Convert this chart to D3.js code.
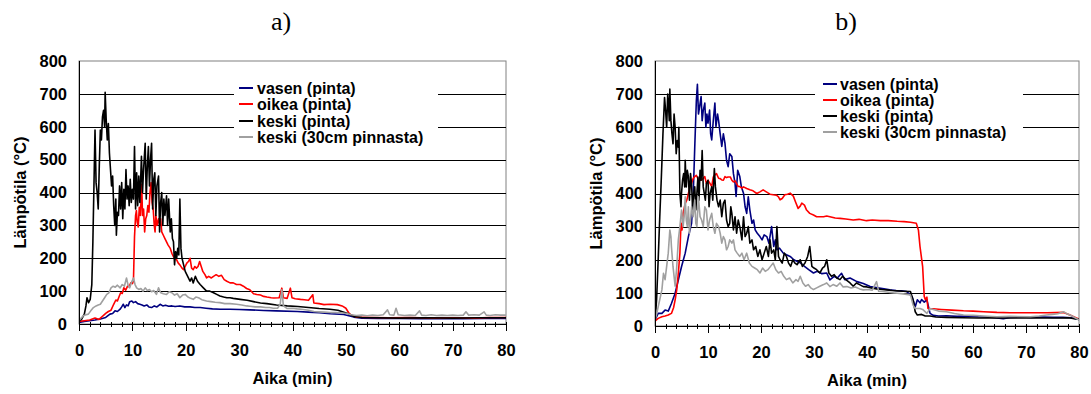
<!DOCTYPE html>
<html>
<head>
<meta charset="UTF-8">
<script src="https://cdnjs.cloudflare.com/ajax/libs/d3/7.8.5/d3.min.js"></script>
<style>
  body { margin: 0; background: #fff; }
  text { font-family: "Liberation Sans", Arial, sans-serif; }
</style>
</head>
<body>
<script>
// tick values
var xTicks = [0, 10, 20, 30, 40, 50, 60, 70, 80];
var xMinor = [2, 4, 6, 8, 12, 14, 16, 18, 22, 24, 26, 28, 32, 34, 36, 38, 42, 44, 46, 48, 52, 54, 56, 58, 62, 64, 66, 68, 72, 74, 76, 78];
var yTicks = [0, 100, 200, 300, 400, 500, 600, 700, 800];
var seriesNames = ["vasen (pinta)", "oikea (pinta)", "keski (pinta)", "keski (30cm pinnasta)"];
var seriesColors = ["#000080", "#ff0000", "#000000", "#a0a0a0"];
var panelTitles = ["a)", "b)"];

// a) [time (min), temperature (°C)]
var aVasen = [[0,5],[1,8],[2,10],[3,12],[4,15],[5,20],[5.8,30],[6.3,32],[6.75,40],[7.2,38],[7.7,45],[8.0,52],[8.3,60],[8.6,50],[8.9,58],[9.2,55],[9.5,68],[9.9,70],[10.2,65],[10.6,68],[11,62],[11.4,60],[11.8,58],[12.2,55],[12.7,58],[13.1,52],[13.6,50],[14.1,55],[14.6,52],[15.2,60],[15.7,55],[16.2,57],[16.8,54],[17.4,55],[18,53],[18.9,55],[19.8,52],[20.8,52],[21.7,50],[22.7,50],[23.8,48],[25,46],[26.5,45],[28.3,45],[30,44],[32,43],[34.6,41],[37,40],[40.9,38],[43,36],[45,34],[47.1,31],[49.6,29],[51.5,21],[53,18],[56,17],[60,17],[64,16],[68,17],[72,16],[76,17],[80,17]];
var aOikea = [[0,8],[1,10],[2,12],[3,18],[3.75,14],[4.5,25],[5,32],[5.5,38],[6,42],[6.5,60],[6.9,73],[7.2,70],[7.5,83],[7.8,95],[8.1,93],[8.4,110],[8.75,103],[9.1,115],[9.4,113],[9.7,125],[10,123],[10.2,130],[10.4,265],[10.6,330],[10.75,345],[10.9,310],[11.1,295],[11.3,355],[11.5,330],[11.75,425],[11.9,330],[12.1,350],[12.3,280],[12.5,320],[12.7,330],[12.9,360],[13.1,340],[13.3,400],[13.5,430],[13.7,370],[13.9,350],[14.1,300],[14.25,280],[14.4,330],[14.6,300],[14.9,320],[15.1,300],[15.3,320],[15.5,280],[15.8,270],[16.1,260],[16.4,250],[16.7,240],[17.1,230],[17.4,215],[17.7,205],[18,200],[18.3,195],[18.6,185],[18.9,180],[19.3,170],[19.6,165],[19.9,175],[20.2,185],[20.5,190],[20.8,200],[21.1,170],[21.4,165],[21.7,175],[22,170],[22.3,175],[22.6,190],[22.9,175],[23.2,160],[23.6,150],[23.9,140],[24.3,145],[24.8,140],[25.2,145],[25.7,150],[26.2,145],[26.7,148],[27.2,135],[27.7,130],[28.3,125],[28.9,125],[29.5,120],[30.2,120],[30.8,115],[31.4,108],[32,104],[32.7,92],[33.3,90],[34,88],[34.6,84],[35.2,82],[36,80],[36.5,79],[37.5,80],[38,109],[38.3,80],[39,78],[39.6,109],[39.9,80],[40.5,77],[41.5,75],[42.2,74],[43,72],[43.8,89],[44,64],[45,62],[45.9,59],[47,60],[48.4,59],[49.3,55],[50,48],[50.5,35],[50.9,28],[52,21],[55,20],[58,19],[62,20],[66,18],[70,19],[74,18],[77,20],[80,20]];
var aKeski = [[0,8],[0.5,15],[1,30],[1.3,55],[1.5,80],[1.8,65],[2.1,75],[2.4,120],[2.6,250],[2.8,420],[3.0,590],[3.2,430],[3.4,400],[3.6,350],[3.8,480],[4.0,590],[4.2,560],[4.4,630],[4.6,650],[4.8,600],[4.9,705],[5.1,620],[5.3,560],[5.5,610],[5.7,520],[5.9,470],[6.1,420],[6.3,450],[6.5,360],[6.7,300],[6.9,380],[7.0,270],[7.2,340],[7.4,330],[7.6,420],[7.8,350],[8.0,430],[8.2,320],[8.4,410],[8.6,350],[8.8,470],[9.0,380],[9.2,420],[9.4,360],[9.6,440],[9.8,370],[10.0,410],[10.2,380],[10.4,540],[10.6,350],[10.8,460],[11.0,360],[11.2,450],[11.4,370],[11.7,510],[11.9,400],[12.1,470],[12.4,550],[12.6,380],[12.8,480],[13.0,540],[13.2,420],[13.4,500],[13.6,550],[13.8,350],[14.0,440],[14.2,460],[14.4,330],[14.6,420],[14.9,450],[15.1,280],[15.3,370],[15.5,400],[15.7,300],[15.9,380],[16.1,330],[16.4,390],[16.6,300],[16.8,380],[17.1,280],[17.3,320],[17.5,260],[17.7,250],[17.9,180],[18.1,220],[18.3,200],[18.5,230],[18.7,210],[18.9,380],[19.1,230],[19.3,200],[19.6,180],[19.9,160],[20.2,150],[20.5,140],[20.8,130],[21.1,140],[21.4,125],[21.8,145],[22.2,130],[22.7,120],[23.3,110],[23.9,100],[24.5,100],[25.2,95],[25.8,90],[26.4,85],[27.1,82],[27.7,80],[28.3,80],[28.9,78],[30.2,75],[31.5,72],[32.7,68],[34,64],[35.2,62],[37,58],[39,55],[41,53],[43,50],[45,47],[47,45],[48.5,42],[50.2,33],[51.5,23],[53,20],[56,19],[60,18],[65,19],[70,18],[75,19],[80,19]];
var aKeski30 = [[0,10],[0.4,18],[0.8,25],[1.3,28],[1.75,30],[2.2,40],[2.7,50],[3.2,55],[3.6,58],[4,60],[4.4,70],[4.8,80],[5.2,90],[5.6,95],[6,110],[6.4,115],[6.8,112],[7.2,118],[7.7,110],[8.1,120],[8.5,115],[8.9,140],[9.2,118],[9.5,110],[9.8,125],[10.2,140],[10.5,120],[10.8,110],[11.2,105],[11.6,108],[12,100],[12.4,110],[12.8,102],[13.2,105],[13.6,98],[14,102],[14.5,90],[14.9,110],[15.3,95],[15.8,92],[16.4,90],[16.9,98],[17.4,95],[17.9,88],[18.4,92],[18.9,80],[19.4,88],[19.9,90],[20.4,82],[20.9,78],[21.4,75],[21.9,82],[22.4,80],[23,74],[23.9,70],[24.7,68],[25.5,66],[26.4,65],[27.3,62],[28.3,62],[29.5,60],[30.5,58],[31.4,55],[32,54],[33,52],[34,52],[35,50],[35.7,50],[36.4,48],[37.2,48],[37.7,60],[38,104],[38.3,55],[39,47],[40,48],[40.9,46],[42,44],[43,42],[44,38],[45,37],[46,36],[47,35],[48,35],[49,34],[50.2,32],[51,28],[52,26],[53,27],[54,25],[55,27],[56,26],[57,28],[57.8,43],[58.2,28],[59,27],[59.4,48],[59.8,28],[61,26],[62,27],[63,26],[63.8,40],[64.2,27],[65,26],[66,28],[67,26],[68,27],[69,26],[70,27],[71,26],[72,27],[72.5,37],[73,27],[74,28],[75,27],[75.9,37],[76.3,27],[77,26],[78,28],[79,27],[80,27]];

// b)
var bVasen = [[0,18],[0.6,38],[1.3,38],[1.9,48],[2.5,45],[3.1,68],[3.8,99],[4.4,139],[5,179],[5.7,220],[6.3,270],[6.9,310],[7.2,390],[7.5,540],[7.8,680],[8.0,730],[8.2,640],[8.4,660],[8.7,693],[8.9,620],[9.1,650],[9.4,673],[9.6,600],[9.8,640],[10,612],[10.3,652],[10.5,580],[10.7,562],[11,620],[11.3,673],[11.5,602],[11.8,640],[12,620],[12.3,580],[12.6,542],[12.9,580],[13.2,552],[13.5,500],[13.8,481],[14.1,520],[14.5,512],[14.8,460],[15.1,431],[15.3,391],[15.6,470],[16,451],[16.3,420],[16.7,401],[17.0,360],[17.3,340],[17.6,390],[17.9,350],[18.3,310],[18.6,320],[18.9,290],[19.3,280],[19.8,270],[20.2,260],[20.6,275],[21.1,270],[21.5,250],[22,300],[22.4,240],[22.7,260],[23,230],[23.5,235],[24.2,220],[24.8,215],[25.5,210],[26.2,200],[26.8,195],[27.5,190],[28.2,180],[29,170],[29.9,160],[30.6,165],[31.5,158],[32.4,160],[33,139],[33.8,150],[34.4,145],[35.2,159],[35.8,140],[36.8,145],[38.1,134],[39.3,128],[40.6,119],[42,115],[43.2,112],[44.3,109],[45.5,107],[46.5,106],[47.5,104],[48.5,89],[49.1,58],[49.5,79],[50,70],[50.3,80],[50.8,72],[51.3,79],[51.9,38],[52.5,32],[53.5,30],[55,31],[57,29],[59,30],[61,28],[63,27],[65.7,22],[67,26],[69,27],[71,26],[73,27],[75,26],[77,26],[78.5,25],[80,20]];
var bOikea = [[0,15],[0.6,23],[1.3,28],[1.9,30],[2.5,33],[3.1,38],[3.5,55],[3.8,79],[4.1,109],[4.4,159],[4.7,220],[4.9,310],[5.1,290],[5.3,340],[5.7,370],[6,380],[6.3,400],[6.6,420],[6.9,431],[7.2,445],[7.5,451],[7.8,455],[8.2,441],[8.5,440],[8.8,441],[9.1,445],[9.4,451],[9.7,430],[10,440],[10.4,430],[10.7,421],[11,450],[11.3,456],[11.6,460],[12,446],[12.3,445],[12.6,441],[12.9,440],[13.2,451],[13.5,448],[13.8,450],[14.2,450],[14.5,440],[14.8,435],[15.1,438],[15.4,430],[15.7,421],[16,421],[16.4,416],[16.7,420],[17.3,415],[17.9,411],[18.5,408],[19.2,400],[19.8,405],[20.4,411],[21.0,405],[21.7,398],[22.3,396],[22.9,395],[23.3,390],[23.6,381],[24.0,385],[24.5,396],[25,398],[25.5,401],[26.1,392],[26.5,375],[27.0,355],[27.4,362],[27.7,371],[28.2,365],[28.6,350],[29.2,340],[29.9,335],[30.5,330],[31.2,330],[31.8,330],[32.4,332],[33,330],[34,326],[34.9,325],[36,323],[37.4,320],[38.5,322],[39.9,318],[41,320],[42.5,318],[44,318],[45.7,316],[47,315],[48.2,313],[49.3,310],[49.7,290],[50,240],[50.5,179],[50.8,89],[51,80],[51.3,87],[51.5,53],[52.5,52],[54,50],[56,48],[58.2,46],[60,45],[62,43],[64.5,41],[67,40],[70.8,40],[74,40],[77.1,41],[78.3,33],[79,28],[80,21]];
var bKeski = [[0,10],[0.3,80],[0.6,200],[0.9,330],[1.2,450],[1.5,580],[1.8,690],[2.0,650],[2.2,600],[2.4,700],[2.5,680],[2.7,620],[2.8,715],[3.0,620],[3.2,580],[3.4,550],[3.6,640],[3.8,600],[4.0,520],[4.2,560],[4.4,540],[4.5,600],[4.7,400],[4.9,360],[5.0,400],[5.2,440],[5.4,460],[5.6,420],[5.7,500],[5.9,420],[6.1,470],[6.3,450],[6.5,380],[6.7,460],[6.9,430],[7.1,350],[7.3,400],[7.5,420],[7.7,350],[7.9,400],[8.1,450],[8.3,380],[8.5,470],[8.7,440],[8.9,530],[9.1,420],[9.3,400],[9.5,380],[9.7,430],[10.0,440],[10.2,360],[10.4,400],[10.7,420],[10.9,380],[11.2,475],[11.4,420],[11.7,380],[12.0,360],[12.3,380],[12.6,330],[12.9,370],[13.2,380],[13.5,320],[13.8,300],[14.1,310],[14.3,360],[14.5,340],[14.8,290],[15.1,330],[15.4,280],[15.7,320],[16.0,300],[16.4,260],[16.7,330],[17.0,270],[17.3,280],[17.6,300],[17.9,250],[18.3,260],[18.6,230],[19.0,240],[19.4,210],[19.8,230],[20.2,200],[20.6,220],[21.0,240],[21.4,210],[21.7,260],[22.0,220],[22.4,230],[22.7,200],[23.0,300],[23.3,210],[23.6,200],[24.0,190],[24.4,220],[24.8,210],[25.2,190],[25.6,180],[26.0,200],[26.4,190],[26.8,185],[27.4,200],[27.8,180],[28.3,190],[28.8,210],[29.2,240],[29.6,180],[30.0,175],[30.5,170],[31.1,160],[31.6,175],[32.0,180],[32.4,200],[32.8,160],[33.3,150],[33.8,155],[34.3,145],[34.9,140],[35.4,150],[36,140],[36.8,130],[37.4,120],[38,130],[38.6,125],[39.3,119],[40,118],[40.8,115],[41.8,112],[42.8,110],[43.7,109],[44.7,107],[45.7,106],[46.8,105],[48.2,104],[48.7,78],[49.1,43],[49.5,33],[50.3,35],[51,30],[51.9,30],[53,27],[55,26],[58,25],[61,24],[64,25],[67,24],[70,25],[73,24],[76,24],[78,25],[80,20]];
var bKeski30 = [[0,18],[0.3,35],[0.6,58],[0.9,80],[1.3,109],[1.6,159],[1.9,140],[2.2,180],[2.5,220],[2.8,290],[3.0,270],[3.1,240],[3.4,179],[3.6,150],[3.8,120],[4.1,179],[4.4,260],[4.7,300],[5,350],[5.3,300],[5.5,330],[5.7,390],[5.9,320],[6.1,300],[6.3,360],[6.5,280],[6.7,320],[6.9,360],[7.2,330],[7.5,380],[7.7,310],[7.9,300],[8.2,390],[8.5,330],[8.8,320],[9.1,300],[9.4,360],[9.7,350],[10,290],[10.3,320],[10.7,340],[11,300],[11.3,280],[11.6,310],[12,300],[12.3,280],[12.6,250],[12.9,270],[13.2,260],[13.5,230],[13.8,240],[14.1,260],[14.5,250],[14.8,260],[15.1,230],[15.5,220],[16,210],[16.4,220],[16.8,200],[17.3,220],[17.8,190],[18.3,180],[18.8,175],[19.3,170],[19.8,160],[20.3,175],[20.8,165],[21.3,170],[21.8,180],[22.3,190],[22.8,170],[23.3,160],[23.8,165],[24.3,150],[24.8,140],[25.4,145],[26,130],[26.6,140],[27.0,135],[27.4,150],[27.9,130],[28.4,120],[28.9,125],[29.4,115],[29.9,110],[30.5,115],[31.1,120],[31.8,125],[32.4,130],[33,119],[33.6,125],[34.3,120],[34.9,130],[35.5,118],[36.2,119],[37,115],[37.8,118],[38.6,112],[39.3,109],[40.2,110],[41,108],[41.8,134],[42.2,105],[43,104],[44,102],[45,100],[45.7,99],[46.8,97],[48.2,94],[48.7,63],[49.1,53],[50,53],[50.5,50],[51.3,38],[51.9,53],[52.5,50],[53.5,45],[55,43],[56.5,38],[58.2,33],[60,32],[62,30],[64.5,28],[67,29],[70.8,28],[72.5,30],[73.9,33],[75,35],[76,37],[77.1,43],[77.6,38],[78.3,33],[79,27],[80,18]];

var width = 1091, height = 394;
var svg = d3.select("body").append("svg")
    .attr("width", width)
    .attr("height", height);

var panels = [
  {title: panelTitles[0], series: [aVasen, aOikea, aKeski, aKeski30],
   left: 79, right: 506, top: 61, bottom: 324, titleX: 281,
   legend: {x: 234, y: 79, w: 204, h: 66, lineX: 239, textX: 257, rows: [88, 104, 121, 137]}},
  {title: panelTitles[1], series: [bVasen, bOikea, bKeski, bKeski30],
   left: 655, right: 1079, top: 61, bottom: 326, titleX: 846,
   legend: {x: 815, y: 74, w: 208, h: 64, lineX: 823, textX: 840, rows: [84, 100, 116, 132]}}
];

panels.forEach(function (p) {
  var x = d3.scaleLinear().domain([0, 80]).range([p.left, p.right]);
  var y = d3.scaleLinear().domain([0, 800]).range([p.bottom, p.top]);
  var g = svg.append("g");

  // title
  g.append("text")
    .attr("x", p.titleX).attr("y", 30)
    .attr("text-anchor", "middle")
    .style("font-family", "'Liberation Serif', 'Times New Roman', serif")
    .style("font-size", "26px")
    .text(p.title);

  // plot frame
  g.append("rect")
    .attr("x", p.left).attr("y", p.top)
    .attr("width", p.right - p.left).attr("height", p.bottom - p.top)
    .attr("fill", "none").attr("stroke", "#808080").attr("stroke-width", 1);

  // gridlines
  g.selectAll(null)
    .data(yTicks.filter(function (d) { return d > 0 && d < 800; }))
    .enter().append("line")
    .attr("x1", p.left).attr("x2", p.right)
    .attr("y1", function (d) { return Math.round(y(d)) + 0.5; })
    .attr("y2", function (d) { return Math.round(y(d)) + 0.5; })
    .attr("stroke", "#000").attr("stroke-width", 1);

  // legend box (covers gridlines)
  var lg = p.legend;
  g.append("rect")
    .attr("x", lg.x).attr("y", lg.y).attr("width", lg.w).attr("height", lg.h)
    .attr("fill", "#fff");

  // series
  var line = d3.line()
    .x(function (d) { return x(d[0]); })
    .y(function (d) { return y(d[1]); });
  var clipId = "clip" + p.left;
  svg.append("clipPath").attr("id", clipId).append("rect")
    .attr("x", p.left).attr("y", p.top - 2)
    .attr("width", p.right - p.left).attr("height", p.bottom - p.top + 2);

  g.append("g").attr("clip-path", "url(#" + clipId + ")")
    .selectAll("path")
    .data(p.series)
    .enter().append("path")
    .attr("d", line)
    .attr("fill", "none")
    .attr("stroke", function (d, i) { return seriesColors[i]; })
    .attr("stroke-width", 1.6)
    .attr("stroke-linejoin", "round");

  // legend entries
  var rows = g.selectAll(".lg").data(seriesNames).enter().append("g");
  rows.append("line")
    .attr("x1", lg.lineX).attr("x2", lg.lineX + 14)
    .attr("y1", function (d, i) { return lg.rows[i]; })
    .attr("y2", function (d, i) { return lg.rows[i]; })
    .attr("stroke", function (d, i) { return seriesColors[i]; })
    .attr("stroke-width", 2);
  rows.append("text")
    .attr("x", lg.textX)
    .attr("y", function (d, i) { return lg.rows[i]; })
    .attr("dy", "0.36em")
    .style("font-size", "16px").style("font-weight", "bold")
    .text(function (d) { return d; });

  // y axis
  g.append("line")
    .attr("x1", p.left + 0.5).attr("x2", p.left + 0.5)
    .attr("y1", p.top).attr("y2", p.bottom)
    .attr("stroke", "#000");
  var yAxis = d3.axisLeft(y).tickValues(yTicks).tickSize(0).tickPadding(12);
  var ya = g.append("g").attr("transform", "translate(" + p.left + ",0)").call(yAxis);
  ya.select(".domain").remove();
  ya.selectAll("text")
    .style("font-family", "'Liberation Sans', Arial, sans-serif")
    .style("font-size", "16.5px").style("font-weight", "bold").attr("fill", "#000");

  // x axis
  g.append("line")
    .attr("x1", p.left).attr("x2", p.right)
    .attr("y1", p.bottom + 0.5).attr("y2", p.bottom + 0.5)
    .attr("stroke", "#000");
  g.selectAll(null).data(xMinor).enter().append("line")
    .attr("x1", function (d) { return Math.round(x(d)) + 0.5; })
    .attr("x2", function (d) { return Math.round(x(d)) + 0.5; })
    .attr("y1", p.bottom - 2).attr("y2", p.bottom + 3)
    .attr("stroke", "#000");
  g.selectAll(null).data(xTicks).enter().append("line")
    .attr("x1", function (d) { return Math.round(x(d)) + 0.5; })
    .attr("x2", function (d) { return Math.round(x(d)) + 0.5; })
    .attr("y1", p.bottom - 2).attr("y2", p.bottom + 7)
    .attr("stroke", "#000");
  var xAxis = d3.axisBottom(x).tickValues(xTicks).tickSize(0).tickPadding(20);
  var xa = g.append("g").attr("transform", "translate(0," + p.bottom + ")").call(xAxis);
  xa.select(".domain").remove();
  xa.selectAll("text")
    .style("font-family", "'Liberation Sans', Arial, sans-serif")
    .style("font-size", "16.5px").style("font-weight", "bold").attr("fill", "#000");

  // axis titles
  g.append("text")
    .attr("x", (p.left + p.right) / 2).attr("y", p.bottom + 60)
    .attr("text-anchor", "middle")
    .style("font-size", "16.5px").style("font-weight", "bold")
    .text("Aika (min)");
  g.append("text")
    .attr("transform", "translate(" + (p.left - 53) + "," + ((p.top + p.bottom) / 2) + ") rotate(-90)")
    .attr("text-anchor", "middle")
    .style("font-size", "16.5px").style("font-weight", "bold")
    .text("Lämpötila (°C)");
});
</script>
</body>
</html>
